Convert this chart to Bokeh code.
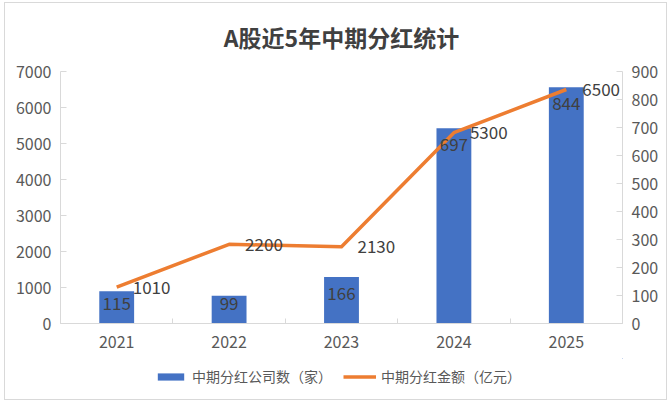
import numpy as np
from bokeh.plotting import figure
from bokeh.layouts import column
from bokeh.models import (Range1d, LinearAxis, FixedTicker, Legend, LegendItem)
from bokeh.embed import file_html
from bokeh.resources import INLINE
from bokeh.core.properties import value

# ---- data ----
years = ["2021", "2022", "2023", "2024", "2025"]
companies = [115, 99, 166, 697, 844]          # 中期分红公司数（家）  right axis
amounts = [1010, 2200, 2130, 5300, 6500]      # 中期分红金额（亿元）  left axis
left_ticks = [0, 1000, 2000, 3000, 4000, 5000, 6000, 7000]
right_ticks = [0, 100, 200, 300, 400, 500, 600, 700, 800, 900]
series_names = ["中期分红公司数（家）", "中期分红金额（亿元）"]

FONT = "Noto Sans CJK SC"
GRAY_AXIS = "#d9d9d9"
GRAY_TEXT = "#595959"
DARK = "#404040"
BLUE = "#4472C4"
ORANGE = "#ED7D31"
label_floor = 132   # keep inside-end labels of short bars above the axis

n = len(years)
xpos = list(range(1, n + 1))                     # category slots
bounds = [i + 0.5 for i in range(n + 1)]         # category boundaries

p = figure(width=661, height=355, x_range=Range1d(0.5, n + 0.5),
           y_range=Range1d(0, 7000), output_backend="svg", toolbar_location=None,
           x_axis_location=None, y_axis_location=None,
           min_border_left=55, min_border_right=44, min_border_top=61, min_border_bottom=35)
p.extra_y_ranges = {"right": Range1d(0, 900)}
p.outline_line_color = None
p.xgrid.visible = False
p.ygrid.visible = False
p.background_fill_color = "white"
p.border_fill_color = "white"

p.title.text = "A股近5年中期分红统计"
p.title.align = "center"
p.title.vertical_align = "top"
p.title.text_font = FONT
p.title.text_font_size = "23px"
p.title.text_font_style = "bold"
p.title.text_color = DARK
p.title.standoff = 32


def style_axis(ax, size="16px"):
    ax.axis_line_color = GRAY_AXIS
    ax.major_tick_line_color = GRAY_AXIS
    ax.major_tick_in = 6
    ax.major_tick_out = 0
    ax.minor_tick_line_color = None
    ax.major_label_text_font = FONT
    ax.major_label_text_font_size = size
    ax.major_label_text_color = GRAY_TEXT
    ax.major_label_standoff = 9


la = LinearAxis(ticker=FixedTicker(ticks=left_ticks))
style_axis(la)
p.add_layout(la, "left")
ra = LinearAxis(y_range_name="right", ticker=FixedTicker(ticks=right_ticks))
style_axis(ra)
p.add_layout(ra, "right")

xa = LinearAxis(ticker=FixedTicker(ticks=xpos, minor_ticks=bounds),
                major_label_overrides={x: y for x, y in zip(xpos, years)})
style_axis(xa)
xa.major_tick_line_color = None
xa.major_tick_in = 0
xa.minor_tick_line_color = GRAY_AXIS
xa.minor_tick_in = 5
xa.minor_tick_out = 0
xa.major_label_standoff = 12
p.add_layout(xa, "below")

p.vbar(x=xpos, top=companies, width=0.31, y_range_name="right",
       fill_color=BLUE, line_color=None)
p.line(x=xpos, y=amounts, line_color=ORANGE, line_width=3.5, line_join="round")

p.text(x=xpos, y=list(np.maximum(companies, label_floor)), text=[str(v) for v in companies],
       y_range_name="right", text_align="center", text_baseline="top", y_offset=10,
       text_font=value(FONT), text_font_size="17px", text_color=DARK)
p.text(x=xpos, y=amounts, text=[str(v) for v in amounts], x_offset=16,
       text_align="left", text_baseline="middle",
       text_font=value(FONT), text_font_size="17px", text_color=DARK)

# legend strip below the chart (series kept off-view here, only their keys show)
lf = figure(width=661, height=41, x_range=Range1d(-2, -1), y_range=Range1d(0, 1),
            output_backend="svg", toolbar_location=None,
            x_axis_location=None, y_axis_location=None,
            min_border_left=0, min_border_right=0, min_border_top=0, min_border_bottom=0)
lf.outline_line_color = None
lf.xgrid.visible = False
lf.ygrid.visible = False
lf.border_fill_color = "white"
key_bar = lf.vbar(x=xpos, top=companies, bottom=companies, width=0.31,
                  fill_color=BLUE, line_color=None)
key_line = lf.line(x=xpos, y=amounts, line_color=ORANGE, line_width=3.5)
legend = Legend(items=[LegendItem(label=series_names[0], renderers=[key_bar]),
                       LegendItem(label=series_names[1], renderers=[key_line])],
                orientation="horizontal", location=(94, 13),
                border_line_color=None, background_fill_alpha=0,
                label_text_font=FONT, label_text_font_size="14px", label_text_color=GRAY_TEXT,
                glyph_width=33, glyph_height=9, label_standoff=5, spacing=11,
                padding=0, margin=0)
lf.add_layout(legend, "center")

layout = column(p, lf, spacing=0,
                styles={"border": "1px solid #d9d9d9", "margin-left": "4px", "margin-top": "2px",
                        "background-color": "white"})

open("out.html", "w").write(file_html(layout, INLINE))
